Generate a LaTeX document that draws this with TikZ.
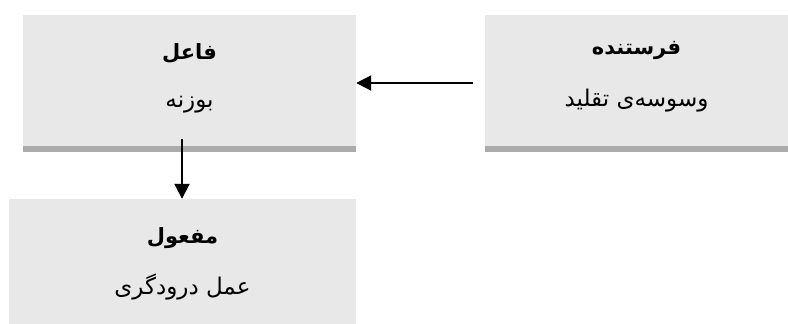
\documentclass[tikz,border=0pt]{standalone}
\usepackage{fontspec}
\usetikzlibrary{arrows.meta}
\TeXXeTstate=1
\newfontfamily\arabicfont[Script=Arabic]{DejaVu Sans}
\definecolor{boxfill}{HTML}{E8E8E8}
\definecolor{boxband}{HTML}{ABABAB}
\begin{document}
\begin{tikzpicture}[x=1pt,y=-1pt,
  boxbg/.style={fill=boxfill,draw=none},
  bandbg/.style={fill=boxband,draw=none},
  titletext/.style={font=\arabicfont\bfseries\fontsize{21}{24}\selectfont,inner sep=0pt,anchor=center},
  subtext/.style={font=\arabicfont\fontsize{23}{26}\selectfont,inner sep=0pt,anchor=center},
  conn/.style={line width=2pt,-{Triangle[length=15pt,width=15pt]},shorten >=0pt}]
\useasboundingbox (0,0) rectangle (788,324);
% box fa'el
\path[boxbg] (23,15) rectangle (356,146);
\path[bandbg] (23,146) rectangle (356,152);
\node[inner sep=0pt,minimum width=333pt,minimum height=131pt] (faal) at (189.5,80.5) {};
\node[titletext] (faalT) at (189.5,53) {\beginR فاعل\endR};
\node[subtext] (faalS) at (189.5,105) {\beginR بوزنه\endR};
% box ferestande
\path[boxbg] (485,15) rectangle (788,146);
\path[bandbg] (485,146) rectangle (788,152);
\node[inner sep=0pt,minimum width=303pt,minimum height=131pt] (fer) at (636.5,80.5) {};
\node[titletext] (ferT) at (636.5,50) {\beginR فرستنده\endR};
\node[subtext] (ferS) at (636.5,101) {\beginR وسوسه‌ی تقلید\endR};
% box maf'ul
\path[boxbg] (9,199) rectangle (356,324);
\node[inner sep=0pt,minimum width=347pt,minimum height=125pt] (maf) at (182.5,261.5) {};
\node[titletext] (mafT) at (182.5,238) {\beginR مفعول\endR};
\node[subtext] (mafS) at (182.5,287) {\beginR عمل درودگری\endR};
% connectors
\coordinate (hstart) at (473,83);
\coordinate (vstart) at (182,139);
\draw[conn] (hstart) -- (faal.east |- hstart);
\draw[conn] (vstart) -- (vstart |- maf.north);
\end{tikzpicture}
\end{document}
